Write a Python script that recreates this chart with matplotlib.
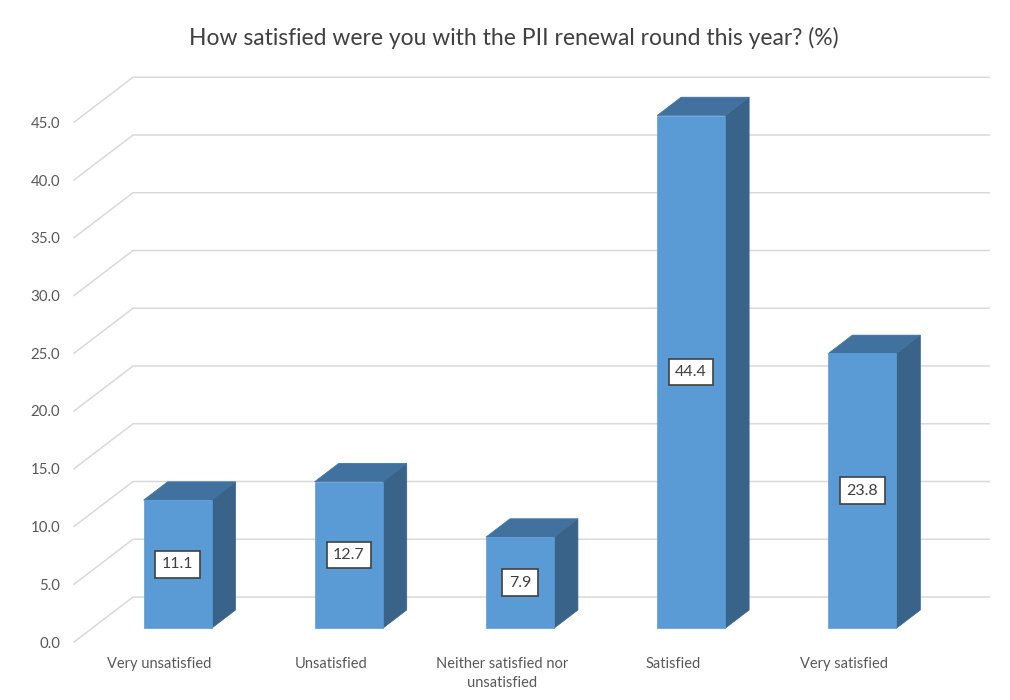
import matplotlib
matplotlib.use("Agg")
import matplotlib.pyplot as plt
from matplotlib.patches import Polygon
from matplotlib.ticker import FormatStrFormatter

# --- data -------------------------------------------------------------
categories = ["Very unsatisfied", "Unsatisfied", "Neither satisfied nor\nunsatisfied",
              "Satisfied", "Very satisfied"]
values = [11.1, 12.7, 7.9, 44.4, 23.8]
y_ticks = [0, 5, 10, 15, 20, 25, 30, 35, 40, 45]
title = "How satisfied were you with the PII renewal round this year? (%)"

# --- style ------------------------------------------------------------
plt.rcParams["font.family"] = ["Lato", "DejaVu Sans"]
FRONT = "#5B9BD5"
TOP = "#41719F"
SIDE = "#3A6389"
GRID = "#D9D9D9"
TEXT = "#595959"

W, H = 1010, 700
fig = plt.figure(figsize=(W / 100, H / 100), dpi=100)
fig.patch.set_facecolor("white")

# front plane of the 3-D box (depth 0)
ax = fig.add_axes([74 / W, 58 / H, 856 / W, 519.75 / H])
ax.set_xlim(-0.5, len(categories) - 0.5)
ax.set_ylim(0, 45)
ax.patch.set_visible(False)
for s in ax.spines.values():
    s.set_visible(False)

# oblique depth offset per unit depth, in data units
DX = 59 / 171.2
DY = 45 / (519.75 / 45)


def proj(x, v, d):
    return (x + d * DX, v + d * DY)


x_left, x_right = -0.5, len(categories) - 0.5

# side-wall diagonals + back-wall gridlines
for t in y_ticks:
    pts = [proj(x_left, t, 0), proj(x_left, t, 1), proj(x_right, t, 1)]
    ax.plot([p[0] for p in pts], [p[1] for p in pts], color=GRID, lw=1.1,
            clip_on=False, zorder=1, solid_joinstyle="miter")

# bars
half_w = 0.397 / 2
d_front, d_back = 0.304, 0.711
for i, v in enumerate(values):
    x0, x1 = i - half_w, i + half_w
    front = [proj(x0, 0, d_front), proj(x1, 0, d_front),
             proj(x1, v, d_front), proj(x0, v, d_front)]
    top = [proj(x0, v, d_front), proj(x1, v, d_front),
           proj(x1, v, d_back), proj(x0, v, d_back)]
    side = [proj(x1, 0, d_front), proj(x1, 0, d_back),
            proj(x1, v, d_back), proj(x1, v, d_front)]
    for poly, col in ((side, SIDE), (top, TOP), (front, FRONT)):
        ax.add_patch(Polygon(poly, closed=True, facecolor=col, edgecolor=col,
                             lw=0.5, clip_on=False, zorder=3))
    lx, ly = proj(i, v / 2, d_front)
    ax.text(lx, ly, f"{v:.1f}", ha="center", va="center", fontsize=11.5,
            color="#404040", zorder=5,
            bbox=dict(boxstyle="square,pad=0.4", facecolor="white",
                      edgecolor="#404040", lw=1.2))

# axes labels
ax.set_yticks(y_ticks)
ax.yaxis.set_major_formatter(FormatStrFormatter("%.1f"))
ax.tick_params(axis="y", length=0, pad=10, labelsize=10.8, labelcolor=TEXT)
ax.set_xticks(range(len(categories)))
ax.set_xticklabels(categories, linespacing=1.45)
ax.tick_params(axis="x", length=0, pad=10.5, labelsize=10.5, labelcolor=TEXT)

fig.text(514 / W, 1 - 38 / H, title, ha="center", va="center",
         fontsize=16.5, color="#404040")

fig.savefig("out.png", dpi=100, facecolor="white")
